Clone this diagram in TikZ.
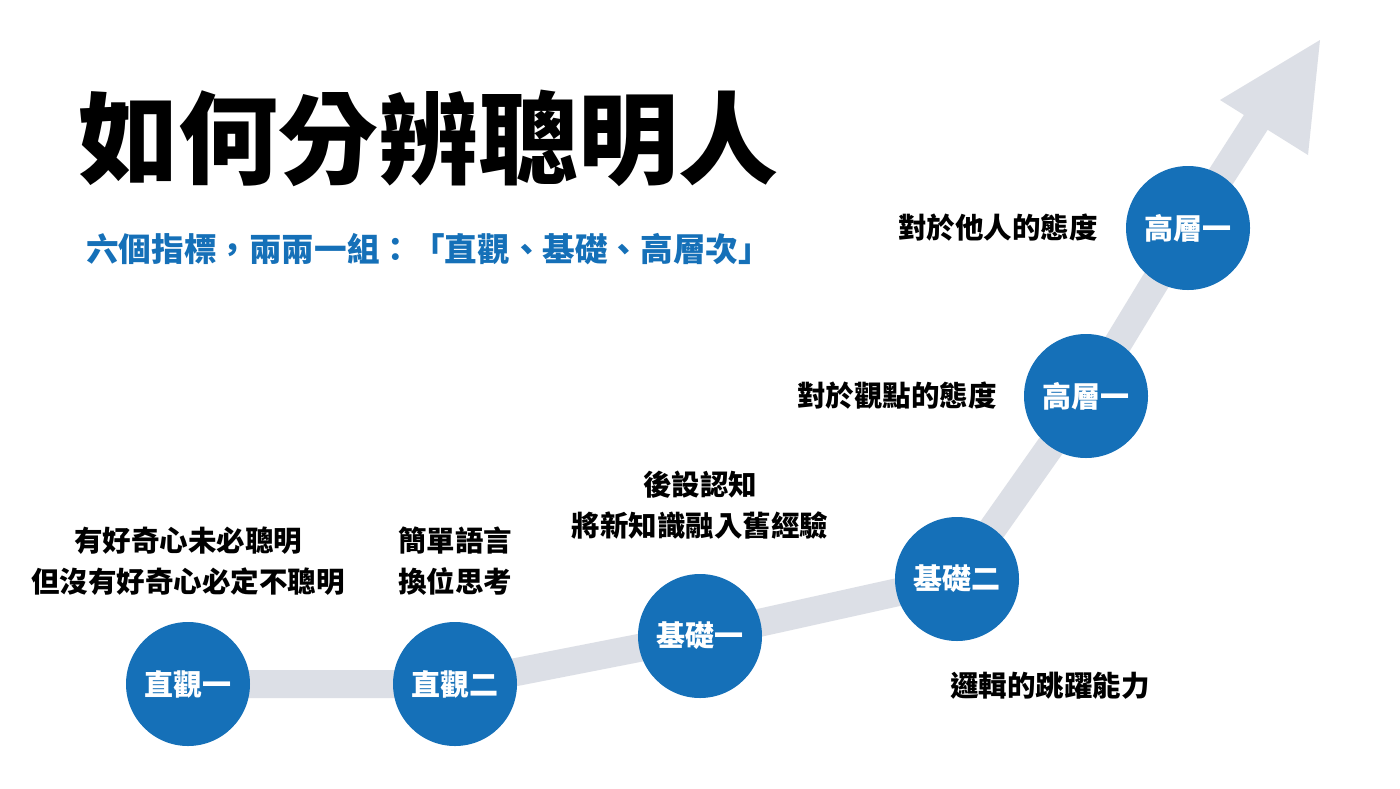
\documentclass[tikz,border=0pt]{standalone}
\usepackage{fontspec}
\setmainfont{Noto Sans CJK TC}
\definecolor{blu}{HTML}{1570B8}
\definecolor{gry}{HTML}{DCDFE6}
\begin{document}
\begin{tikzpicture}[x=1pt,y=-1pt,
  dot/.style={circle,fill=blu,minimum size=124pt,inner sep=0pt,text=white,font=\bfseries\fontsize{29}{30}\selectfont},
  lbl/.style={font=\bfseries\fontsize{28.5}{41}\selectfont,align=center,text=black}]
\useasboundingbox (0,0) rectangle (1400,788);
\fill[white] (0,0) rectangle (1400,788);
\coordinate (pa) at (188,684);
\coordinate (pb) at (455,684);
\coordinate (pc) at (700,636);
\coordinate (pd) at (957,579);
\coordinate (pe) at (1086,396);
\coordinate (pf) at (1188,228);
\coordinate (t) at (1265,108);
\draw[gry,line width=28pt] (pa) -- (pb) -- (pc) -- (pd) -- (pe) -- (pf) -- (t);
\fill[gry] (1320,40) -- (1220,100) -- (1308,155) -- cycle;
\node[dot] (a) at (pa) {直觀一};
\node[dot] (b) at (pb) {直觀二};
\node[dot] (c) at (pc) {基礎一};
\node[dot] (d) at (pd) {基礎二};
\node[dot] (e) at (pe) {高層一};
\node[dot] (f) at (pf) {高層一};
\node[anchor=west,font=\bfseries\fontsize{100}{110}\selectfont,inner sep=0pt] (title) at (78,138) {如何分辨聰明人};
\node[anchor=west,font=\bfseries\fontsize{32.6}{34}\selectfont,text=blu,inner sep=0pt] (sub) at (86,249) {六個指標，兩兩一組：「直觀、基礎、高層次」};
\node[lbl] (la) at (188,561) {有好奇心未必聰明\\但沒有好奇心必定不聰明};
\node[lbl] (lb) at (455,561) {簡單語言\\換位思考};
\node[lbl] (lc) at (700,505) {後設認知\\將新知識融入舊經驗};
\node[lbl] (ld) at (1050,686) {邏輯的跳躍能力};
\node[lbl] (le) at (897,396) {對於觀點的態度};
\node[lbl] (lf) at (998,228) {對於他人的態度};
\end{tikzpicture}
\end{document}
